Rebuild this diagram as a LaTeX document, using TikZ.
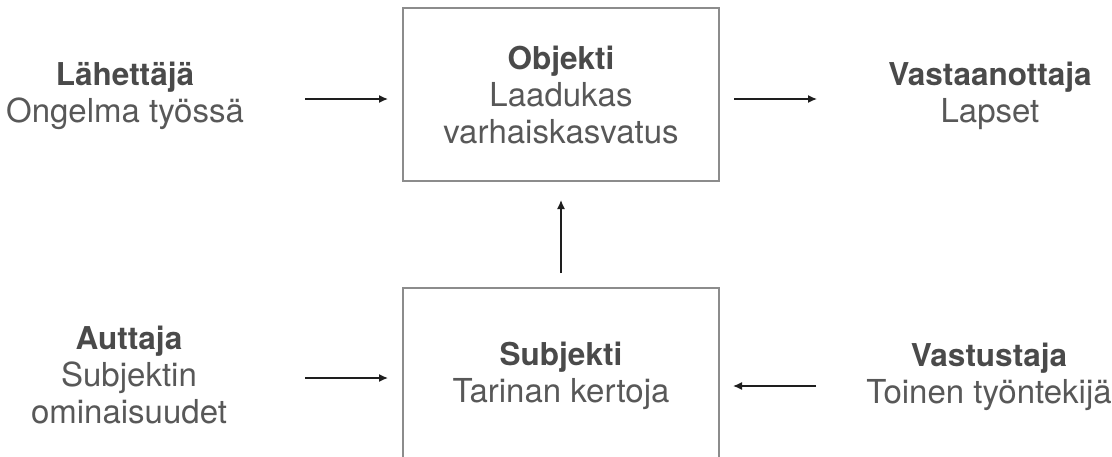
\documentclass[tikz,border=0pt]{standalone}
\usepackage{fontspec}
\setmainfont{TeX Gyre Heros}
\usetikzlibrary{arrows.meta}
\definecolor{boxgray}{HTML}{8C8C8C}
\definecolor{boldgray}{HTML}{4A4A4A}
\definecolor{reggray}{HTML}{585858}
\definecolor{arrowcol}{HTML}{1E1E1E}
\tikzset{
  box/.style={draw=boxgray, line width=2pt, minimum width=316pt, minimum height=173pt, inner sep=0pt},
  lbl/.style={align=center, text=reggray, inner sep=0pt, font=\fontsize{33}{37}\selectfont},
  arr/.style={draw=arrowcol, line width=1.4pt, -{Latex[length=9pt,width=8pt]}}
}
\newcommand{\hd}[1]{{\fontsize{31.5}{37}\selectfont\bfseries\color{boldgray}#1}}
\begin{document}
\begin{tikzpicture}[x=1pt,y=-1pt]
\useasboundingbox (0,0) rectangle (1112,456);
\clip (0,0) rectangle (1112,456);
% boxes
\node[box] (obj) at (561,94.5) {};
\node[box] (sub) at (561,374.5) {};
% box texts (anchor = baseline of last line)
\node[lbl, anchor=base] (objt) at (561,143) {\hd{Objekti}\\Laadukas\\varhaiskasvatus};
\node[lbl, anchor=base] (subt) at (561,402) {\hd{Subjekti}\\Tarinan kertoja};
% side labels
\node[lbl, anchor=base] (lah) at (125,122) {\hd{Lähettäjä}\\Ongelma työssä};
\node[lbl, anchor=base] (vas) at (990,122) {\hd{Vastaanottaja}\\Lapset};
\node[lbl, anchor=base] (aut) at (129,423) {\hd{Auttaja}\\Subjektin\\ominaisuudet};
\node[lbl, anchor=base] (vst) at (989,403) {\hd{Vastustaja}\\Toinen työntekijä};
% arrow end points
\coordinate (a1s) at (305,99);  \coordinate (a1e) at (388,99);
\coordinate (a2s) at (734,99);  \coordinate (a2e) at (817,99);
\coordinate (a3s) at (305,378); \coordinate (a3e) at (388,378);
\coordinate (a4s) at (816,386); \coordinate (a4e) at (733,386);
\coordinate (a5s) at (561,273); \coordinate (a5e) at (561,200);
\draw[arr] (a1s) -- (a1e);
\draw[arr] (a2s) -- (a2e);
\draw[arr] (a3s) -- (a3e);
\draw[arr] (a4s) -- (a4e);
\draw[arr] (a5s) -- (a5e);
\end{tikzpicture}
\end{document}
